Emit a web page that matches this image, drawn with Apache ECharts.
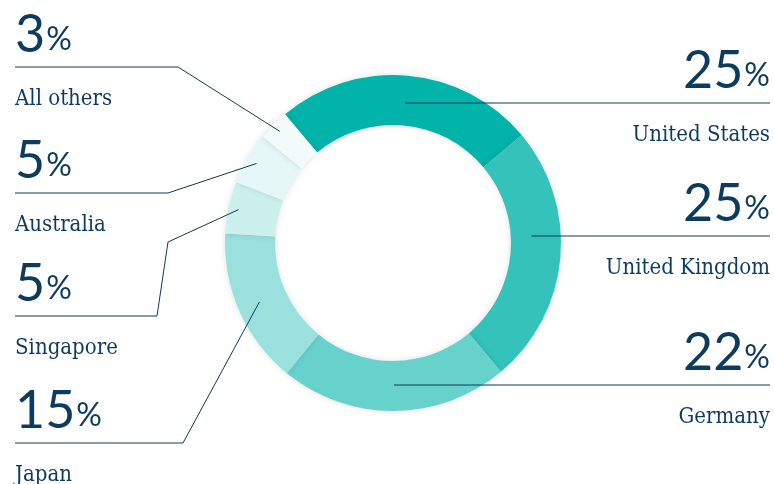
<!DOCTYPE html>
<html>
<head>
<meta charset="utf-8">
<script src="https://cdn.jsdelivr.net/npm/echarts@6/dist/echarts.min.js"></script>
<style>
  html, body { margin: 0; padding: 0; background: #ffffff; }
  #chart { width: 774px; height: 484px; }
</style>
</head>
<body>
<div id="chart"></div>
<script>
// Share of total by market (percent), clockwise from the top-left.
const categories = ['United States', 'United Kingdom', 'Germany', 'Japan', 'Singapore', 'Australia', 'All others'];
const shares = [25, 25, 22, 15, 5, 5, 3];
const sliceColors = ['#02b3aa', '#34c2bb', '#67d1cc', '#9ae1dd', '#ccf0ee', '#e5f7f6', '#f2fbfa'];

// Where each callout sits: side, the y of its rule, elbow points and how far
// into the ring the leader starts.
const calloutLayout = [
  { side: 'right', ruleY: 103, inset: 140 },
  { side: 'right', ruleY: 236, inset: 139 },
  { side: 'right', ruleY: 385, inset: 140 },
  { side: 'left',  ruleY: 443, inset: 146, bends: [[183, 443]] },
  { side: 'left',  ruleY: 316, inset: 158, bends: [[168, 242], [157, 316]] },
  { side: 'left',  ruleY: 193, inset: 158, bends: [[168, 193]] },
  { side: 'left',  ruleY: 67,  inset: 159, bends: [[178, 67]] }
];

const center = [393, 243];
const outerR = 168;
const innerR = 118;
const startAngle = 130;
const leftEdge = 15;
const rightEdge = 770;
const ink = '#0d3b5e';

const pieData = categories.map(function (name, i) {
  return { name: name, value: shares[i], itemStyle: { color: sliceColors[i] } };
});

const chart = echarts.init(document.getElementById('chart'), null, { renderer: 'canvas' });

chart.setOption({
  backgroundColor: '#ffffff',
  animation: false,
  series: [
    {
      // the coloured ring
      type: 'pie',
      z: 2,
      center: center,
      radius: [innerR, outerR],
      startAngle: startAngle,
      clockwise: true,
      silent: true,
      itemStyle: {
        shadowBlur: 6,
        shadowColor: 'rgba(0, 60, 60, 0.15)'
      },
      emphasis: { disabled: true },
      label: { show: false },
      labelLine: { show: false },
      data: pieData
    },
    {
      // same ring, invisible, carrying the callouts so their leaders sit on top
      type: 'pie',
      z: 5,
      center: center,
      radius: [innerR, outerR],
      startAngle: startAngle,
      clockwise: true,
      silent: true,
      avoidLabelOverlap: false,
      itemStyle: { color: 'rgba(0,0,0,0)' },
      emphasis: { disabled: true },
      label: {
        show: true,
        position: 'outside',
        formatter: function (p) {
          return '{n|' + p.value + '}{p|%}\n{t|' + p.name + '}';
        },
        rich: {
          n: { fontFamily: 'Lato', fontSize: 52, color: ink, lineHeight: 72 },
          p: { fontFamily: 'Lato', fontSize: 32, color: ink, lineHeight: 72, padding: [10, 0, 0, 1] },
          t: { fontFamily: 'DejaVu Serif Condensed', fontSize: 22, color: ink, lineHeight: 56 }
        }
      },
      labelLine: {
        show: true,
        smooth: false,
        lineStyle: { color: ink, width: 1 }
      },
      labelLayout: function (params) {
        const i = params.dataIndex;
        const spot = calloutLayout[i];
        const edgePt = params.labelLinePoints[0];
        const k = spot.inset / outerR;
        const ax = center[0] + (edgePt[0] - center[0]) * k;
        let ay = center[1] + (edgePt[1] - center[1]) * k;
        let pts;
        if (spot.side === 'right') {
          ay = spot.ruleY;
          pts = [[ax, ay], [rightEdge, spot.ruleY]];
        } else {
          pts = [[ax, ay]].concat(spot.bends).concat([[leftEdge, spot.ruleY]]);
        }
        return {
          x: spot.side === 'right' ? rightEdge : leftEdge,
          y: spot.ruleY - 68,
          align: spot.side === 'right' ? 'right' : 'left',
          verticalAlign: 'top',
          labelLinePoints: pts
        };
      },
      data: categories.map(function (name, i) {
        return { name: name, value: shares[i] };
      })
    }
  ]
});
</script>
</body>
</html>
